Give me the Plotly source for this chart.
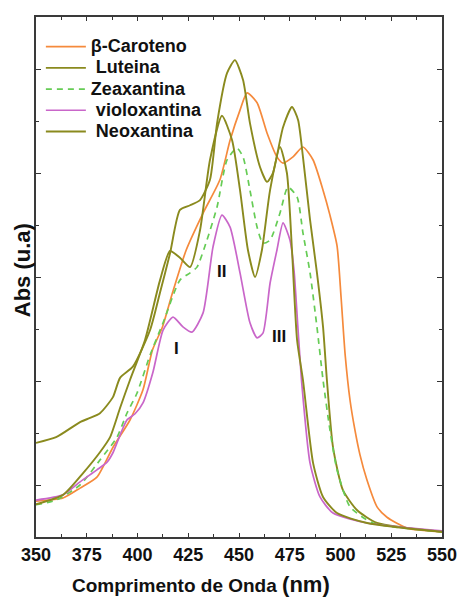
import plotly.graph_objects as go

# ---- data (wavelength nm, absorbance arbitrary units) ----
caroteno_x = [350, 363.3, 371.7, 380, 388, 396.3, 402.7, 407.4, 412.3, 417.2, 424, 432.3, 440.6, 445.6, 450.5,
              454, 458.9, 463.8, 468.7, 471.7, 476.6, 481.5, 486.5, 491.4, 494.8, 498.3, 500.3, 502.3, 504.7,
              507.1, 509.6, 513, 518, 522.9, 532.8, 550]
caroteno_y = [0.69, 0.75, 0.94, 1.15, 1.73, 2.25, 2.83, 3.6, 4.04, 4.69, 5.52, 6.23, 6.87, 7.63, 8.21,
              8.54, 8.35, 7.77, 7.31, 7.19, 7.31, 7.5, 7.25, 6.67, 6.19, 5.6, 4.6, 3.5, 2.63,
              2.06, 1.58, 1.1, 0.58, 0.38, 0.17, 0.1]

luteina_x = [350, 359.9, 371.7, 376.6, 381.5, 387.9, 391.4, 397.8, 406.2, 411.1, 416, 420.9, 425.9, 430.8,
             435.7, 439.2, 444.1, 448, 452, 455.4, 460.3, 463.8, 466.7, 471.7, 476.1, 479.1, 481.5, 485,
             488.4, 491.4, 493.3, 496.3, 501.2, 508.1, 518, 550]
luteina_y = [1.81, 1.92, 2.21, 2.29, 2.38, 2.69, 3.06, 3.28, 3.98, 4.7, 5.45, 6.29, 6.38, 6.48,
             6.87, 7.96, 8.92, 9.17, 8.79, 7.96, 7.12, 6.83, 7.0, 7.88, 8.27, 8.02, 7.31, 6.1,
             5.08, 4.04, 3.02, 1.73, 0.9, 0.52, 0.27, 0.1]

zeaxantina_x = [350, 359.9, 371.7, 381.5, 389.9, 394.8, 399.8, 406.2, 412.6, 420.9, 425.9, 429.3, 434.2,
                439.2, 444.1, 449, 452, 455.4, 458.9, 461.8, 465.3, 470.2, 474.1, 478.6, 481.5, 485,
                488.4, 491.4, 494.8, 498.3, 504.7, 516, 550]
zeaxantina_y = [0.62, 0.71, 1.0, 1.48, 1.92, 2.38, 2.77, 3.5, 4.12, 4.94, 5.08, 5.19, 5.71,
                6.35, 7.25, 7.48, 7.31, 6.67, 5.96, 5.65, 5.71, 6.23, 6.73, 6.54, 5.85, 5.08,
                4.04, 3.02, 2.06, 1.29, 0.58, 0.27, 0.1]

violoxantina_x = [350, 363.3, 371.7, 380, 385, 387.9, 391.4, 394.8, 398.8, 402.7, 407.6, 412.6, 417.5,
                  422.4, 426.8, 432.3, 437.2, 441.6, 445.6, 450.5, 455.4, 458.9, 461.8, 465.3, 468.7,
                  471.7, 475.1, 477.1, 479.1, 481, 485, 489.9, 496.3, 513, 550]
violoxantina_y = [0.71, 0.81, 1.06, 1.29, 1.44, 1.62, 1.96, 2.25, 2.37, 2.58, 3.17, 3.98, 4.23,
                  4.04, 3.94, 4.31, 5.58, 6.19, 5.96, 5.08, 4.12, 3.83, 3.92, 4.88, 5.52,
                  6.04, 5.71, 5.13, 3.98, 2.92, 1.42, 0.77, 0.46, 0.27, 0.12]

neoxantina_x = [350, 363.3, 373.2, 381.5, 386.5, 391.4, 396.3, 403.7, 411.1, 416, 420.9, 425.9, 430.8,
                435.7, 441.6, 446.6, 450.5, 454.4, 457.9, 461.3, 465.3, 470.2, 473.6, 476.1, 478.6,
                481.5, 486.5, 491.4, 498.3, 513.1, 550]
neoxantina_y = [0.63, 0.81, 1.23, 1.63, 1.92, 2.48, 3.02, 3.79, 4.94, 5.5, 5.37, 5.19, 5.9,
                7.25, 8.1, 7.63, 6.67, 5.52, 5.0, 5.52, 6.67, 7.5, 7.0, 5.52, 3.79,
                3.02, 1.42, 0.77, 0.46, 0.27, 0.1]

series_names = ["β-Caroteno", " Luteina", "Zeaxantina", " violoxantina", " Neoxantina"]
band_labels = ["I", "II", "III"]
band_x = [419.0, 441.6, 469.7]
band_y = [3.63, 5.1, 3.85]

x_ticks = [350, 375, 400, 425, 450, 475, 500, 525, 550]

OLIVE = "#8a8a1e"
FONT = "Liberation Sans, Arial, sans-serif"

fig = go.Figure()

def leg(name):
    return "<span style='font-size:18px'><b>" + name + "</b></span>"

fig.add_trace(go.Scatter(x=caroteno_x, y=caroteno_y, mode="lines", name=leg(series_names[0]),
                         line=dict(color="#f58a3c", width=1.7, shape="spline", smoothing=0.6)))
fig.add_trace(go.Scatter(x=luteina_x, y=luteina_y, mode="lines", name=leg(series_names[1]),
                         line=dict(color=OLIVE, width=1.9, shape="spline", smoothing=0.6)))
fig.add_trace(go.Scatter(x=zeaxantina_x, y=zeaxantina_y, mode="lines", name=leg(series_names[2]),
                         line=dict(color="#66cc55", width=1.7, dash="6px,5px", shape="spline", smoothing=0.6)))
fig.add_trace(go.Scatter(x=violoxantina_x, y=violoxantina_y, mode="lines", name=leg(series_names[3]),
                         line=dict(color="#c966c9", width=1.7, shape="spline", smoothing=0.6)))
fig.add_trace(go.Scatter(x=neoxantina_x, y=neoxantina_y, mode="lines", name=leg(series_names[4]),
                         line=dict(color=OLIVE, width=1.9, shape="spline", smoothing=0.6)))

for t, bx, by in zip(band_labels, band_x, band_y):
    fig.add_annotation(x=bx, y=by, text="<b>" + t + "</b>", showarrow=False,
                       font=dict(family=FONT, size=17, color="#111111"))

fig.add_annotation(xref="paper", yref="paper", x=0.406, y=-0.092, xanchor="center", yanchor="middle",
                   text="<b>Comprimento de Onda <span style='font-size:22px'>(nm)</span></b>",
                   showarrow=False, font=dict(family=FONT, size=19, color="#111111"))
fig.add_annotation(xref="paper", yref="paper", x=-0.0345, y=0.513, xanchor="center", yanchor="middle",
                   text="<b>Abs (u.a)</b>", textangle=-90,
                   showarrow=False, font=dict(family=FONT, size=22, color="#111111"))

fig.update_layout(
    width=460, height=598,
    margin=dict(l=36, r=18, t=17, b=61, autoexpand=False),
    paper_bgcolor="white", plot_bgcolor="white",
    showlegend=True,
    legend=dict(x=0.012, y=0.973, xanchor="left", yanchor="top", bgcolor="rgba(0,0,0,0)",
                font=dict(family=FONT, size=14, color="#111111"), tracegroupgap=0,
                itemwidth=40),
    font=dict(family=FONT),
)
fig.update_xaxes(range=[350, 550], tickvals=x_ticks, ticktext=[str(v) for v in x_ticks],
                 automargin=False,
                 ticks="inside", ticklen=4, tickwidth=1.2, tickcolor="#333333",
                 minor=dict(dtick=12.5, tick0=350, ticks="inside", ticklen=3, tickcolor="#333333"),
                 showline=True, linecolor="#3a3a3a", linewidth=2, mirror="ticks",
                 showgrid=False, zeroline=False,
                 tickfont=dict(family=FONT, size=18, color="#111111", weight="bold"))
fig.update_yaxes(range=[0, 10], tick0=1, dtick=2, showticklabels=False, automargin=False,
                 ticks="inside", ticklen=5, tickwidth=1.2, tickcolor="#333333",
                 minor=dict(dtick=1, tick0=0, ticks="inside", ticklen=3, tickcolor="#333333"),
                 showline=True, linecolor="#3a3a3a", linewidth=2, mirror="ticks",
                 showgrid=False, zeroline=False)

fig.write_html("out.html")
